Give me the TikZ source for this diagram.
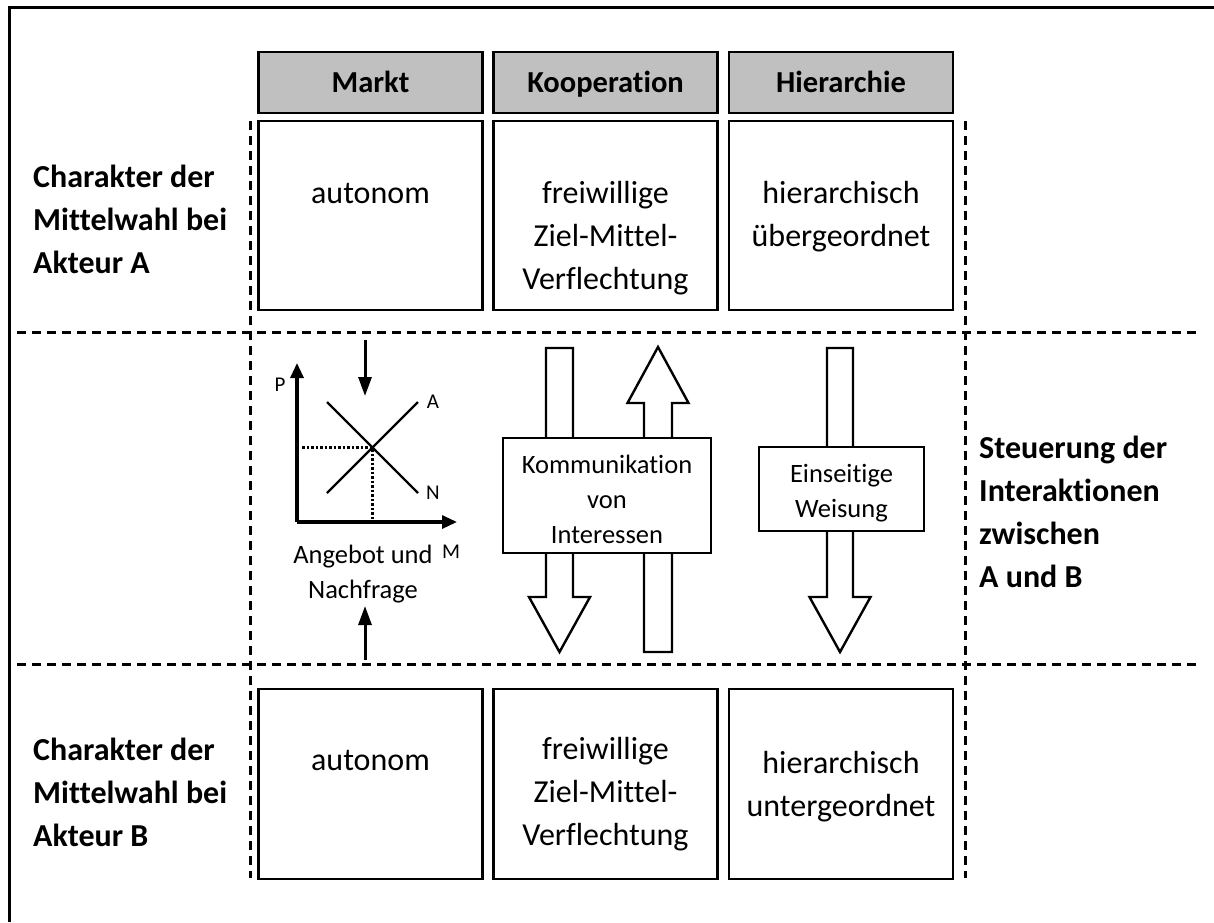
\documentclass[tikz,border=0pt]{standalone}
\usepackage{fontspec}
\setmainfont{Carlito}[Ligatures={TeX,NoCommon}]
\usetikzlibrary{arrows.meta}
\definecolor{headgray}{HTML}{C0C0C0}
\begin{document}
\begin{tikzpicture}[x=1pt,y=-1pt,
  frameline/.style={line width=3pt},
  sepline/.style={line width=3pt, dash pattern=on 9pt off 6pt},
  headbox/.style={draw, line width=2.4pt, fill=headgray, minimum width=224pt, minimum height=61pt,
    inner sep=0pt, text height=20pt, text depth=0pt, font=\fontsize{30.5}{36}\selectfont\bfseries},
  cellbox/.style={draw, line width=2.4pt, fill=white, minimum width=224pt, inner sep=0pt},
  celltext/.style={align=center, anchor=base, inner sep=0pt, font=\fontsize{32}{43}\selectfont},
  sidetext/.style={align=left, anchor=base west, inner sep=0pt, font=\fontsize{32}{43}\selectfont\bfseries},
  labelbox/.style={draw, line width=2.4pt, fill=white, inner sep=0pt},
  smalltext/.style={align=center, anchor=base, inner sep=0pt, font=\fontsize{26.5}{35}\selectfont},
  axislabel/.style={inner sep=0pt, font=\fontsize{21}{22}\selectfont},
  blockarrow/.style={draw, line width=2.4pt, fill=white, line join=miter},
  thinarrow/.style={line width=3pt, -{Triangle[length=19pt, width=13pt]}},
  axisline/.style={line width=3.2pt, -{Triangle[length=15pt, width=13pt]}},
  curveline/.style={line width=2.4pt},
  guideline/.style={line width=3pt, dash pattern=on 2.5pt off 2pt}
]
\useasboundingbox (0,0) rectangle (1214,922);

% outer frame (top and left edges)
\draw[frameline] (9,922) -- (9,7) -- (1214,7);

% column headers
\node[headbox] (hMarkt) at (370.5,82.5) {Markt};
\node[headbox] (hKoop) at (605.5,82.5) {Kooperation};
\node[headbox] (hHier) at (841,82.5) {Hierarchie};

% row of actor A
\node[cellbox, minimum height=189pt] (aMarkt) at (370.5,215.5) {};
\node[cellbox, minimum height=189pt] (aKoop) at (605.5,215.5) {};
\node[cellbox, minimum height=189pt] (aHier) at (841,215.5) {};
\node[celltext] (taMarkt) at (370.5,203) {autonom};
\node[celltext] (taKoop) at (605.5,289) {freiwillige\\Ziel-Mittel-\\Verflechtung};
\node[celltext] (taHier) at (841,246) {hierarchisch\\übergeordnet};

% row of actor B
\node[cellbox, minimum height=190pt] (bMarkt) at (370.5,784) {};
\node[cellbox, minimum height=190pt] (bKoop) at (605.5,784) {};
\node[cellbox, minimum height=190pt] (bHier) at (841,784) {};
\node[celltext] (tbMarkt) at (370.5,770) {autonom};
\node[celltext] (tbKoop) at (605.5,845) {freiwillige\\Ziel-Mittel-\\Verflechtung};
\node[celltext] (tbHier) at (841,816) {hierarchisch\\untergeordnet};

% dashed separators
\draw[sepline] (17,332) -- (1200,332);
\draw[sepline] (17,664) -- (1200,664);
\draw[sepline] (250,121) -- (250,878);
\draw[sepline] (965,121) -- (965,878);

% row labels
\node[sidetext] (lA) at (33,273) {Charakter der\\Mittelwahl bei\\Akteur A};
\node[sidetext] (lB) at (33,846) {Charakter der\\Mittelwahl bei\\Akteur B};
\node[sidetext] (lS) at (979,587) {Steuerung der\\Interaktionen\\zwischen\\A und B};

% market: supply and demand sketch
\coordinate (o) at (297,522);
\coordinate (ytip) at (297,363);
\coordinate (xtip) at (457,522);
\draw[axisline] (o) -- (ytip);
\draw[axisline] (o) -- (xtip);
\coordinate (a1) at (327,493);
\coordinate (a2) at (418,402);
\coordinate (n1) at (327,402);
\coordinate (n2) at (418,493);
\coordinate (eq) at (372.5,447.5);
\draw[curveline] (a1) -- (a2);
\draw[curveline] (n1) -- (n2);
\draw[guideline] (302,447.5) -- (eq) -- (372.5,520);
\node[axislabel] (lP) at (280,385) {P};
\node[axislabel] (lAcurve) at (433,402) {A};
\node[axislabel] (lN) at (433,493) {N};
\node[axislabel] (lM) at (451,552) {M};
\node[smalltext] (tAN) at (363,598) {Angebot und\\Nachfrage};
\coordinate (dTop) at (365,340);
\coordinate (dEnd) at (365,396);
\coordinate (uBot) at (365,660);
\coordinate (uEnd) at (365,606);
\draw[thinarrow] (dTop) -- (dEnd);
\draw[thinarrow] (uBot) -- (uEnd);

% cooperation: arrows both ways
\draw[blockarrow] (546,348) -- (573,348) -- (573,597) -- (590,597) -- (559.5,652)
  -- (529,597) -- (546,597) -- cycle;
\draw[blockarrow] (644,652) -- (672,652) -- (672,403) -- (688.5,403) -- (658,347)
  -- (627.5,403) -- (644,403) -- cycle;
\node[labelbox, minimum width=208pt, minimum height=115pt] (kom) at (607,495.5) {};
\node[smalltext] (tkom) at (607,543) {Kommunikation\\von\\Interessen};

% hierarchy: one-way instruction
\draw[blockarrow] (827,348) -- (853,348) -- (853,597) -- (870.5,597) -- (840,652)
  -- (809.5,597) -- (827,597) -- cycle;
\node[labelbox, minimum width=165pt, minimum height=84pt] (weis) at (841.5,489) {};
\node[smalltext] (tweis) at (841.5,517) {Einseitige\\Weisung};
\end{tikzpicture}
\end{document}
